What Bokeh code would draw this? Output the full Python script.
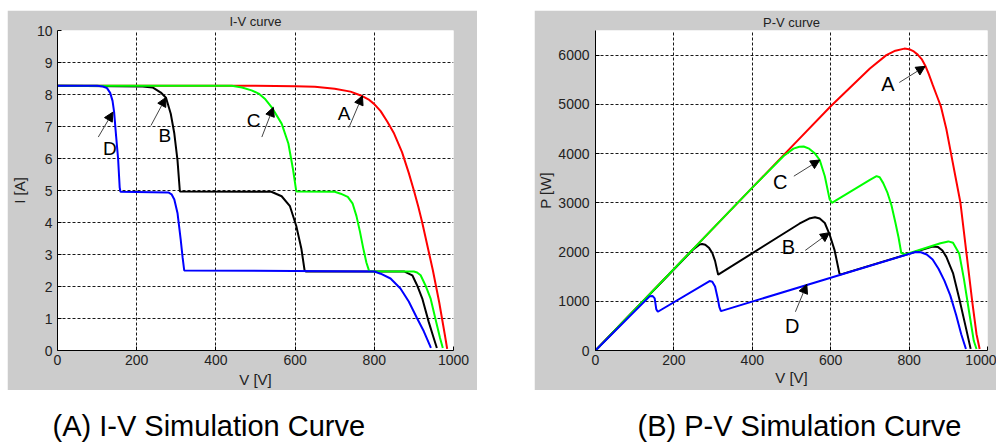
from bokeh.plotting import figure
from bokeh.models import Range1d, FixedTicker, Label, Arrow, NormalHead, Spacer
from bokeh.layouts import row, column
from bokeh.embed import file_html
from bokeh.resources import INLINE

# ---------------- data ----------------
x_ticks = [0, 200, 400, 600, 800, 1000]
iv_y_ticks = [0, 1, 2, 3, 4, 5, 6, 7, 8, 9, 10]
pv_y_ticks = [0, 1000, 2000, 3000, 4000, 5000, 6000]

# I-V curves (V [V], I [A])
iv_a_v = [0, 500, 600, 650, 700, 740, 766, 785, 800, 816, 833, 850, 870, 887, 900, 911, 921, 930, 939, 948, 956, 964, 971, 978, 984]
iv_a_i = [8.27, 8.27, 8.26, 8.24, 8.18, 8.09, 7.97, 7.85, 7.7, 7.48, 7.15, 6.78, 6.2, 5.55, 5.0, 4.5, 4.0, 3.5, 3.0, 2.5, 2.0, 1.5, 1.0, 0.5, 0.05]

iv_b_v = [0, 215, 240, 261, 274, 286, 295, 303, 309, 540, 566, 587, 603, 616, 624, 627, 875, 896, 908, 921, 937, 950, 958]
iv_b_i = [8.27, 8.25, 8.22, 8.06, 7.9, 7.4, 6.78, 5.95, 4.97, 4.96, 4.82, 4.51, 3.89, 3.17, 2.5, 2.47, 2.47, 2.35, 2.04, 1.63, 0.91, 0.39, 0.08]

iv_c_v = [0, 440, 466, 490, 508, 525, 541, 566, 583, 595, 603, 700, 715, 733, 745, 755, 764, 772, 780, 787, 900, 908, 917, 929, 942, 954, 966, 973]
iv_c_i = [8.27, 8.27, 8.22, 8.13, 8.03, 7.85, 7.6, 7.09, 6.47, 5.64, 4.97, 4.96, 4.9, 4.8, 4.6, 4.2, 3.7, 3.2, 2.75, 2.48, 2.47, 2.44, 2.35, 2.04, 1.63, 1.01, 0.39, 0.08]

iv_d_v = [0, 100, 115, 125, 133, 139, 143, 148, 153, 157, 159, 280, 288, 295, 303, 311, 316, 320, 800, 816, 841, 866, 887, 908, 925, 943]
iv_d_i = [8.27, 8.27, 8.25, 8.2, 8.05, 7.8, 7.45, 6.7, 6.0, 5.1, 4.96, 4.94, 4.88, 4.72, 4.3, 3.48, 2.9, 2.5, 2.47, 2.4, 2.25, 1.94, 1.53, 1.01, 0.6, 0.08]

# P-V curves (V [V], P [W])
pv_a_v = [0, 400, 500, 600, 700, 742, 765, 788, 800, 812, 822, 832, 841, 850, 860, 870, 881, 895, 907, 919, 931, 946, 961, 972, 980]
pv_a_p = [0, 3308, 4135, 4962, 5730, 6000, 6090, 6132, 6120, 6075, 6010, 5920, 5790, 5620, 5400, 5190, 4960, 4500, 4000, 3500, 3000, 2000, 1000, 330, 30]

pv_b_v = [0, 250, 265, 272, 280, 290, 298, 305, 310, 313, 520, 545, 560, 572, 585, 597, 610, 622, 624, 860, 874, 885, 895, 912, 928, 945, 957]
pv_b_p = [0, 2060, 2150, 2165, 2150, 2080, 1980, 1820, 1640, 1540, 2575, 2680, 2708, 2680, 2590, 2361, 2033, 1574, 1541, 2110, 2100, 2030, 1902, 1574, 1050, 460, 33]

pv_c_v = [0, 400, 480, 505, 520, 531, 545, 560, 572, 585, 597, 603, 700, 717, 725, 734, 745, 755, 765, 773, 780, 790, 880, 900, 912, 928, 940, 953, 965, 972]
pv_c_p = [0, 3308, 3950, 4100, 4140, 4144, 4100, 4000, 3870, 3540, 3080, 3000, 3465, 3541, 3520, 3400, 3200, 2950, 2600, 2300, 1980, 1950, 2180, 2216, 2190, 1967, 1444, 787, 197, 30]

pv_d_v = [0, 138, 146, 151, 155, 159, 291, 298, 305, 312, 316, 320, 816, 830, 845, 860, 875, 890, 905, 920, 933, 945]
pv_d_p = [0, 1100, 1105, 1060, 840, 787, 1410, 1395, 1300, 1050, 880, 800, 2000, 1995, 1950, 1850, 1660, 1420, 1120, 720, 330, 30]

# annotations: letter, label pos, arrow start, arrow end
iv_notes = [
    ("A", 724, 7.4, 736, 6.97, 770, 7.96),
    ("B", 271, 6.72, 236, 7.03, 274, 7.91),
    ("C", 495, 7.19, 516, 6.67, 545, 7.6),
    ("D", 132, 6.31, 103, 6.67, 140, 7.45),
]
pv_notes = [
    ("A", 746, 5410, 775, 5444, 841, 5772),
    ("C", 471, 3424, 506, 3541, 572, 3869),
    ("B", 492, 2099, 535, 2033, 597, 2394),
    ("D", 502, 492, 510, 787, 539, 1345),
]

FONT = "Liberation Sans"
GRAY = "#cccccc"
TXT = "#222222"
COLORS = ["#ff0000", "#000000", "#00ff00", "#0000ff"]


def panel(width, height, y_max, y_ticks, borders, tick_std, lab_std, title, title_std):
    p = figure(width=width, height=height,
               x_range=Range1d(0, 1000), y_range=Range1d(0, y_max),
               output_backend="svg", toolbar_location=None,
               border_fill_color=GRAY, background_fill_color="white",
               outline_line_color=None,
               min_border_left=borders[0], min_border_right=borders[1],
               min_border_top=borders[2], min_border_bottom=borders[3])
    p.title.text = title
    p.title.align = "center"
    p.title.text_font = FONT
    p.title.text_font_size = "13px"
    p.title.text_font_style = "normal"
    p.title.text_color = TXT
    p.title.standoff = title_std
    p.xaxis.ticker = FixedTicker(ticks=x_ticks)
    p.yaxis.ticker = FixedTicker(ticks=y_ticks)
    p.xgrid.ticker = FixedTicker(ticks=x_ticks)
    p.ygrid.ticker = FixedTicker(ticks=y_ticks)
    for ax in (p.xaxis[0], p.yaxis[0]):
        ax.major_tick_in = 4
        ax.major_tick_out = 0
        ax.minor_tick_line_color = None
        ax.axis_line_color = "black"
        ax.major_tick_line_color = "black"
        ax.major_label_text_font = FONT
        ax.major_label_text_font_size = "14px"
        ax.major_label_text_color = TXT
        ax.axis_label_text_font = FONT
        ax.axis_label_text_font_size = "15px"
        ax.axis_label_text_font_style = "normal"
        ax.axis_label_text_color = TXT
    p.xaxis.major_label_standoff = tick_std[0]
    p.yaxis.major_label_standoff = tick_std[1]
    p.xaxis.axis_label_standoff = lab_std[0]
    p.yaxis.axis_label_standoff = lab_std[1]
    for g in (p.xgrid[0], p.ygrid[0]):
        g.grid_line_color = "black"
        g.grid_line_dash = "3 2"
        g.grid_line_width = 1
        g.grid_line_alpha = 0.9
    return p


def add_notes(p, notes, fsize):
    for (t, lx, ly, x0, y0, x1, y1) in notes:
        p.add_layout(Arrow(end=NormalHead(size=9, fill_color="black", line_color="black"),
                           x_start=x0, y_start=y0, x_end=x1, y_end=y1,
                           line_color="#444444", line_width=1))
        p.add_layout(Label(x=lx, y=ly, text=t, text_font=FONT, text_font_size=fsize,
                           text_color="black", text_align="center", text_baseline="middle"))


# ---------- I-V panel ----------
p1 = panel(470, 380, 10, iv_y_ticks, (47, 24, 19, 37), (4, 5), (3, 6), "I-V curve", 3)
p1.xaxis.axis_label = "V [V]"
p1.yaxis.axis_label = "I [A]"
for (vx, vy), c in zip([(iv_a_v, iv_a_i), (iv_b_v, iv_b_i), (iv_c_v, iv_c_i), (iv_d_v, iv_d_i)], COLORS):
    p1.line(vx, vy, line_color=c, line_width=2)
add_notes(p1, iv_notes, "19px")

# ---------- P-V panel ----------
p2 = panel(462, 380, 6500, pv_y_ticks, (50, 9, 17, 33), (4, 6), (1, 1), "P-V curve", 1)
p2.xaxis.axis_label = "V [V]"
p2.yaxis.axis_label = "P [W]"
for (vx, vy), c in zip([(pv_a_v, pv_a_p), (pv_b_v, pv_b_p), (pv_c_v, pv_c_p), (pv_d_v, pv_d_p)], COLORS):
    p2.line(vx, vy, line_color=c, line_width=2)
add_notes(p2, pv_notes, "20px")

# ---------- captions ----------
p3 = figure(width=996, height=52, x_range=Range1d(0, 996), y_range=Range1d(0, 52),
            output_backend="svg", toolbar_location=None, min_border=0,
            outline_line_color=None, border_fill_color="white")
p3.axis.visible = False
p3.grid.visible = False
p3.add_layout(Label(x=52, y=17, text="(A) I-V Simulation Curve", text_font=FONT,
                    text_font_size="29px", text_color="black", text_baseline="middle"))
p3.add_layout(Label(x=637, y=17, text="(B) P-V Simulation Curve", text_font=FONT,
                    text_font_size="29px", text_color="black", text_baseline="middle"))

layout = column(
    Spacer(width=996, height=10),
    row(Spacer(width=7, height=380), p1, Spacer(width=57, height=380), p2),
    p3,
)
open("out.html", "w").write(file_html(layout, INLINE))
